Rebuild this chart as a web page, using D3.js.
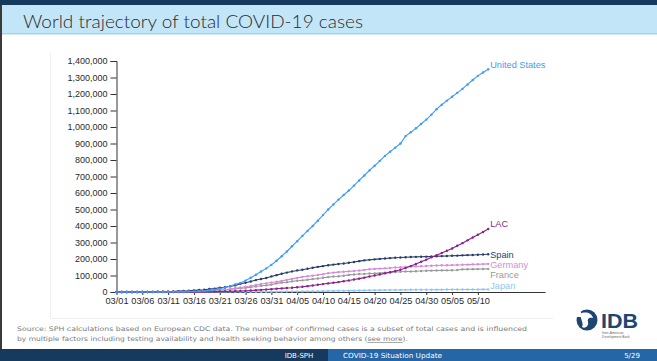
<!DOCTYPE html>
<html>
<head>
<meta charset="utf-8">
<script src="https://cdn.jsdelivr.net/npm/d3@7"></script>
<style>
  html, body { margin: 0; padding: 0; background: #fff; }
  svg { display: block; }
</style>
</head>
<body>
<script>
// days are 03/01 .. 05/12 (2020), one value per day
var startDay = "2020-03-01";
var nDays = 73;

var seriesNames = ["Japan", "France", "Germany", "Spain", "LAC", "United States"];

var usCases = [70, 89, 103, 125, 159, 233, 338, 433, 554, 754,
  1025, 1312, 1663, 2174, 2951, 3774, 4661, 6427, 9415, 14250,
  19624, 26747, 35206, 46442, 55231, 69194, 85991, 104686, 124665, 143025,
  164620, 189618, 216721, 245540, 277205, 308000, 340000, 370000, 400000, 432000,
  466000, 500000, 530000, 560000, 588000, 615000, 645000, 676000, 706000, 737000,
  765000, 795000, 825000, 850000, 875000, 900000, 945000, 968000, 992000, 1018000,
  1045000, 1075000, 1108000, 1135000, 1160000, 1183000, 1207000, 1231000, 1258000, 1285000,
  1310000, 1330000, 1350000];

var lacCases = [2, 3, 4, 6, 10, 20, 30, 40, 60, 80,
  110, 160, 230, 330, 460, 650, 900, 1200, 1600, 2100,
  2800, 3500, 4400, 5300, 6500, 7800, 9500, 11300, 13100, 15000,
  17200, 19500, 21800, 24000, 26000, 29000, 32000, 35500, 39500, 43500,
  48000, 52000, 56000, 60000, 65000, 70000, 75500, 81000, 87000, 93500,
  100000, 106500, 113000, 120000, 127500, 135000, 145000, 157000, 170000, 183000,
  196000, 210000, 223000, 236000, 250000, 264000, 280000, 296000, 313000, 330000,
  347000, 364000, 382000];

var spainCases = [84, 120, 165, 228, 282, 401, 525, 674, 1231, 1695,
  2277, 3146, 5232, 6391, 7798, 9942, 11748, 13910, 17963, 20410,
  25374, 28603, 35136, 39885, 49515, 56188, 64059, 72248, 78797, 85195,
  94417, 102136, 110238, 117710, 124736, 130759, 135032, 140510, 146690, 152446,
  157022, 161852, 166019, 169496, 172541, 177644, 182000, 187000, 191700, 195000,
  198000, 200500, 203000, 205500, 207500, 209500, 211000, 212000, 212900, 213400,
  214500, 215500, 216600, 217500, 218500, 219500, 220500, 222000, 223500, 224500,
  225500, 227000, 228500];

var germanyCases = [117, 150, 188, 240, 349, 534, 684, 847, 1112, 1139,
  1296, 1567, 2369, 3062, 3795, 4838, 6012, 7156, 8198, 10999,
  13957, 16662, 18610, 22672, 27436, 31554, 36508, 42288, 48582, 52547,
  57298, 61913, 67366, 73522, 79696, 85778, 91714, 95391, 99225, 103228,
  108202, 113525, 117658, 120479, 123016, 125098, 127584, 130450, 133830, 137439,
  139897, 141672, 143457, 145694, 148046, 150383, 152438, 154175, 155193, 156337,
  157641, 159119, 160758, 161703, 162496, 163175, 163860, 164807, 166091, 167300,
  168551, 169218, 170500];

var franceCases = [100, 130, 191, 212, 285, 423, 613, 949, 1126, 1412,
  1784, 2281, 2876, 3661, 4499, 5423, 6633, 7652, 9043, 10871,
  12612, 14459, 16018, 19856, 22302, 25233, 29155, 32964, 37575, 40174,
  44550, 52128, 56989, 59105, 64338, 68605, 70478, 74390, 78167, 82048,
  86334, 90276, 93790, 95403, 98076, 103573, 106206, 108847, 109252, 111821,
  112606, 114657, 117324, 119151, 120804, 122577, 124114, 124575, 125770, 126835,
  128339, 129581, 130185, 130979, 131287, 131863, 132967, 137150, 137779, 138421,
  138854, 139063, 140000];

var japanCases = [239, 254, 268, 284, 317, 349, 408, 455, 488, 514,
  568, 620, 675, 716, 780, 814, 829, 873, 914, 950,
  1007, 1046, 1089, 1128, 1193, 1291, 1387, 1499, 1693, 1866,
  1953, 2178, 2384, 2617, 2935, 3271, 3654, 3906, 4257, 4768,
  5347, 6005, 6748, 7255, 7645, 8100, 8626, 9167, 9787, 10361,
  10751, 11118, 11496, 11919, 12388, 12829, 13031, 13182, 13385, 13576,
  13852, 14088, 14281, 14544, 14839, 15057, 15078, 15231, 15354, 15463,
  15547, 15663, 15747];

var xTickLabels = ["03/01", "03/06", "03/11", "03/16", "03/21", "03/26", "03/31",
  "04/05", "04/10", "04/15", "04/20", "04/25", "04/30", "05/05", "05/10"];
var yTickValues = [0, 100000, 200000, 300000, 400000, 500000, 600000, 700000,
  800000, 900000, 1000000, 1100000, 1200000, 1300000, 1400000];

var seriesValues = {
  "United States": usCases,
  "LAC": lacCases,
  "Spain": spainCases,
  "Germany": germanyCases,
  "France": franceCases,
  "Japan": japanCases
};

// styling
var colors = {
  "United States": "#3f9cf4",
  "LAC": "#8c1f8c",
  "Spain": "#2a3c6c",
  "Germany": "#d58bd6",
  "France": "#9a9a9a",
  "Japan": "#8ec7fa"
};
// vertical nudge of the end labels so they don't collide
var labelDy = {
  "United States": -4, "LAC": -5, "Spain": 0, "Germany": 0.5, "France": 5.5, "Japan": -4
};
var chartFont = "Arial, 'Liberation Sans', Helvetica, sans-serif";

var W = 657, H = 361;
var svg = d3.select("body").append("svg").attr("width", W).attr("height", H);

// ---- slide frame ----
svg.append("rect").attr("x", 0).attr("y", 0).attr("width", W).attr("height", H).attr("fill", "#fff");
svg.append("rect").attr("x", 0).attr("y", 0).attr("width", W).attr("height", 5).attr("fill", "#163a5d");
svg.append("rect").attr("x", 0).attr("y", 5).attr("width", W).attr("height", 28).attr("fill", "#c3e5f8");
svg.append("rect").attr("x", 0).attr("y", 33).attr("width", W).attr("height", 1.5).attr("fill", "#a5d3ef");
svg.append("text")
  .attr("x", 23).attr("y", 27.5)
  .attr("font-family", "Lato, 'Open Sans', sans-serif")
  .attr("font-weight", 300)
  .attr("font-size", 18.5)
  .attr("fill", "#2a2a2a")
  .attr("textLength", 340).attr("lengthAdjust", "spacingAndGlyphs")
  .text("World trajectory of total COVID-19 cases");

// faint frame of the embedded chart image
svg.append("path")
  .attr("d", "M50.5,52 V318.5 H553")
  .attr("fill", "none").attr("stroke", "#f0f0f0").attr("stroke-width", 1);

// ---- chart ----
var parse = d3.utcParse("%Y-%m-%d");
var parseTick = d3.utcParse("%Y/%m/%d");
var t0 = parse(startDay);
var days = d3.utcDay.range(t0, d3.utcDay.offset(t0, nDays));

var x = d3.scaleUtc()
  .domain([t0, d3.utcDay.offset(t0, 83)])
  .range([116.5, 545]);
var y = d3.scaleLinear()
  .domain([0, 1400000])
  .range([292, 61]);

var g = svg.append("g");

var xAxis = d3.axisBottom(x)
  .tickValues(xTickLabels.map(function(s) { return parseTick("2020/" + s); }))
  .tickFormat(d3.utcFormat("%m/%d"))
  .tickSize(3).tickSizeOuter(0).tickPadding(2);
var yAxis = d3.axisLeft(y)
  .tickValues(yTickValues)
  .tickFormat(d3.format(","))
  .tickSize(6).tickPadding(3);

var gx = g.append("g").attr("transform", "translate(0,292)").call(xAxis);
var gy = g.append("g").attr("transform", "translate(116.5,0)").call(yAxis);

[gx, gy].forEach(function(a) {
  a.selectAll("path, line").attr("stroke", "#333");
  a.selectAll("text").attr("fill", "#2a2a2a").attr("font-family", chartFont);
});
gx.selectAll("text").attr("font-size", 9.2);
gy.selectAll("text").attr("font-size", 9);

var line = d3.line()
  .x(function(d, i) { return x(days[i]); })
  .y(function(d) { return y(d); });

seriesNames.forEach(function(name) {
  var vals = seriesValues[name];
  var c = colors[name];
  var s = g.append("g");
  s.append("path")
    .attr("d", line(vals))
    .attr("fill", "none")
    .attr("stroke", c)
    .attr("stroke-width", 1.1);
  s.selectAll("circle").data(vals).enter().append("circle")
    .attr("cx", function(d, i) { return x(days[i]); })
    .attr("cy", function(d) { return y(d); })
    .attr("r", 1.2)
    .attr("fill", c);
  var last = vals.length - 1;
  s.append("text")
    .attr("x", x(days[last]) + 2)
    .attr("y", y(vals[last]) + labelDy[name])
    .attr("dy", "0.35em")
    .attr("font-family", chartFont)
    .attr("font-size", 9.2)
    .attr("fill", c)
    .text(name);
});

// ---- footer ----
var foot = svg.append("g")
  .attr("font-family", "'DejaVu Sans', sans-serif")
  .attr("font-size", 6.3)
  .attr("fill", "#7a7a7a");
foot.append("text").attr("x", 17).attr("y", 330.5)
  .attr("textLength", 510).attr("lengthAdjust", "spacingAndGlyphs")
  .text("Source: SPH calculations based on European CDC data. The number of confirmed cases is a subset of total cases and is influenced");
var l2 = foot.append("text").attr("x", 17).attr("y", 341)
  .attr("textLength", 391).attr("lengthAdjust", "spacingAndGlyphs");
l2.append("tspan").text("by multiple factors including testing availability and health seeking behavior among others (");
l2.append("tspan").attr("text-decoration", "underline").text("see more");
l2.append("tspan").text(").");

// IDB logo
var logo = svg.append("g");
logo.append("circle").attr("cx", 587).attr("cy", 320).attr("r", 10.5).attr("fill", "#1d4670");
logo.append("path")
  .attr("d", "M580,314 C585,311 592,313 593,318 C590,317 587,318 588,322 C589,326 585,329 582,327 C584,324 581,320 580,314 Z")
  .attr("fill", "#fff");
logo.append("rect").attr("x", 574).attr("y", 309).attr("width", 7).attr("height", 8).attr("fill", "#fff");
logo.append("text").attr("x", 601).attr("y", 327.5)
  .attr("font-family", chartFont)
  .attr("font-weight", "bold").attr("font-size", 20)
  .attr("fill", "#1d4670")
  .attr("textLength", 37).attr("lengthAdjust", "spacingAndGlyphs")
  .text("IDB");
logo.append("text").attr("x", 602).attr("y", 333.5)
  .attr("font-family", chartFont)
  .attr("font-size", 3.3).attr("fill", "#666").text("Inter-American");
logo.append("text").attr("x", 602).attr("y", 337.5)
  .attr("font-family", chartFont)
  .attr("font-size", 3.3).attr("fill", "#666").text("Development Bank");

// bottom bar
svg.append("rect").attr("x", 0).attr("y", 349).attr("width", 328).attr("height", 12).attr("fill", "#163a5d");
svg.append("rect").attr("x", 328).attr("y", 349).attr("width", W - 328).attr("height", 12).attr("fill", "#2567a6");
var bar = svg.append("g")
  .attr("font-family", "'DejaVu Sans', sans-serif")
  .attr("font-size", 7).attr("fill", "#fff");
bar.append("text").attr("x", 299).attr("y", 357.5).attr("text-anchor", "middle").text("IDB-SPH");
bar.append("text").attr("x", 343).attr("y", 357.5)
  .attr("textLength", 99).attr("lengthAdjust", "spacingAndGlyphs")
  .text("COVID-19 Situation Update");
bar.append("text").attr("x", 632).attr("y", 357.5).attr("text-anchor", "middle").text("5/29");

// dark edge of the screen capture
svg.append("rect").attr("x", 0).attr("y", 5).attr("width", 2).attr("height", 344).attr("fill", "#3a3a3a");
</script>
</body>
</html>
